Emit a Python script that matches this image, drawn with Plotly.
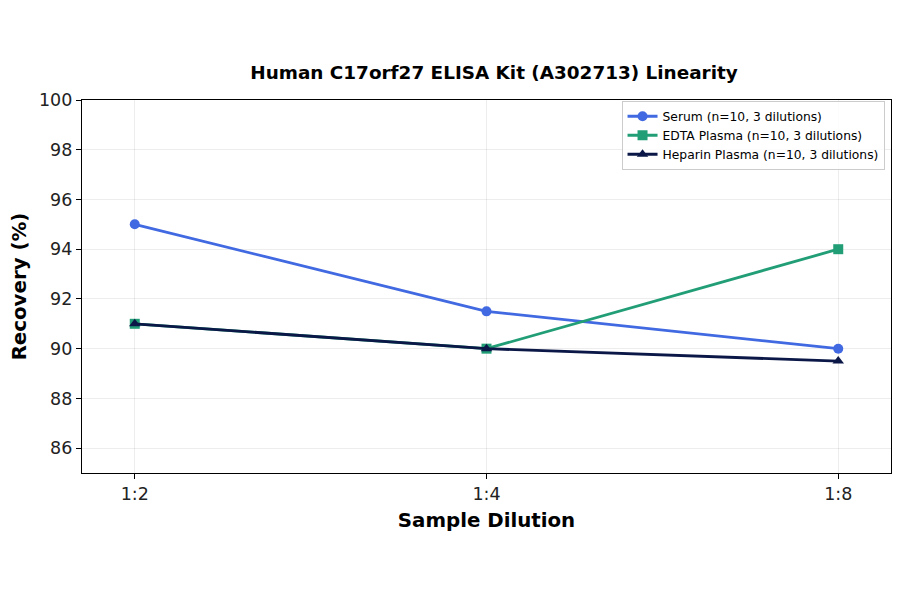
import plotly.graph_objects as go

dilutions = ['1:2', '1:4', '1:8']
serum = [95.0, 91.5, 90.0]
edta = [91.0, 90.0, 94.0]
heparin = [91.0, 90.0, 89.5]

series = [
    ('Serum (n=10, 3 dilutions)', serum, '#4169E1', 'circle'),
    ('EDTA Plasma (n=10, 3 dilutions)', edta, '#229E77', 'square'),
    ('Heparin Plasma (n=10, 3 dilutions)', heparin, '#0B1847', 'triangle-up'),
]

fig = go.Figure()
for name, vals, color, symbol in series:
    fig.add_trace(go.Scatter(x=[0, 1, 2], y=vals, mode='lines+markers', name=name,
                             line=dict(color=color, width=2.8),
                             marker=dict(symbol=symbol, color=color, size=10)))

axis_common = dict(showline=True, linecolor='black', linewidth=1.3, mirror=True,
                   ticks='outside', ticklen=5, tickcolor='black',
                   showgrid=True, gridcolor='rgba(0,0,0,0.07)', gridwidth=1,
                   zeroline=False, tickfont=dict(size=17.5, color='#222'))

# page body adds ~8px offset, so margins are shifted to compensate
fig.update_layout(
    width=900, height=594,
    paper_bgcolor='white', plot_bgcolor='white',
    font=dict(family='DejaVu Sans', color='black'),
    margin=dict(l=74, r=17, t=92, b=129, autoexpand=False),
    title=dict(text='<b>Human C17orf27 ELISA Kit (A302713) Linearity</b>',
               x=0.54, xanchor='center', y=0.8906, yanchor='middle',
               font=dict(size=18.4)),
    xaxis=dict(axis_common, tickmode='array', tickvals=[0, 1, 2], ticktext=dilutions,
               range=[-0.15, 2.15],
               title=dict(text='<b>Sample Dilution</b>', font=dict(size=19.8), standoff=9)),
    yaxis=dict(axis_common, range=[85, 100], dtick=2, tick0=86,
               title=dict(text='<b>Recovery (%)</b>', font=dict(size=19.8), standoff=12)),
    legend=dict(x=0.992, y=0.998, xanchor='right', yanchor='top',
                bgcolor='rgba(255,255,255,0.8)', bordercolor='#ccc', borderwidth=1,
                font=dict(size=12.3), tracegroupgap=0, itemwidth=30),
    showlegend=True,
)

fig.write_html('out.html')
